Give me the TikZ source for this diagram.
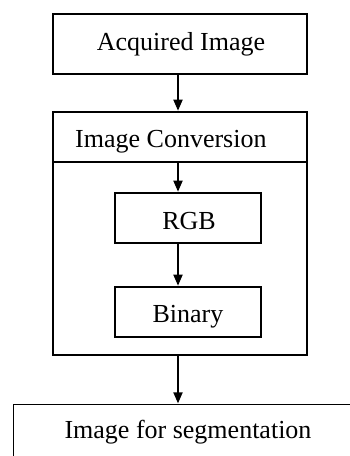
\documentclass[tikz,border=0pt]{standalone}
\usepackage{fontspec}
\setmainfont{Liberation Serif}
\usetikzlibrary{arrows.meta}
\tikzset{
  boxstyle/.style={draw=black, line width=1.4pt, inner sep=0pt},
  lbl/.style={font=\fontsize{26}{30}\selectfont, inner sep=0pt, anchor=base},
  arr/.style={line width=1.8pt, -{Triangle[length=11pt,width=9pt]}, shorten >=0.6pt}
}
\begin{document}
\begin{tikzpicture}[x=1pt,y=-1pt]
\useasboundingbox (0,0) rectangle (350,456);
\clip (0,0) rectangle (350,456);
% boxes
\node[boxstyle, minimum width=254pt, minimum height=60pt] (acq) at (180,44) {};
\node[boxstyle, minimum width=254pt, minimum height=243pt] (conv) at (180,233.5) {};
\node[boxstyle, minimum width=146pt, minimum height=50pt] (rgb) at (188,218) {};
\node[boxstyle, minimum width=146pt, minimum height=50pt] (bin) at (188,312) {};
\node[boxstyle, minimum width=360pt, minimum height=80pt, anchor=north west] (seg) at (13,404) {};
% divider
\coordinate (dl) at (53,162);
\coordinate (dr) at (307,162);
\draw[line width=1.4pt] (dl) -- (dr);
% labels
\node[lbl] (tacq) at (181,50) {Acquired Image};
\node[lbl, anchor=base west] (tconv) at (75,147) {Image Conversion};
\node[lbl] (trgb) at (189,229) {RGB};
\node[lbl] (tbin) at (188,322) {Binary};
\node[lbl] (tseg) at (188,438) {Image for segmentation};
% arrows
\coordinate (ax) at (178,0);
\draw[arr] (acq.south -| ax) -- (conv.north -| ax);
\draw[arr] (dl -| ax) -- (rgb.north -| ax);
\draw[arr] (rgb.south -| ax) -- (bin.north -| ax);
\draw[arr] (conv.south -| ax) -- (seg.north -| ax);
\end{tikzpicture}
\end{document}
